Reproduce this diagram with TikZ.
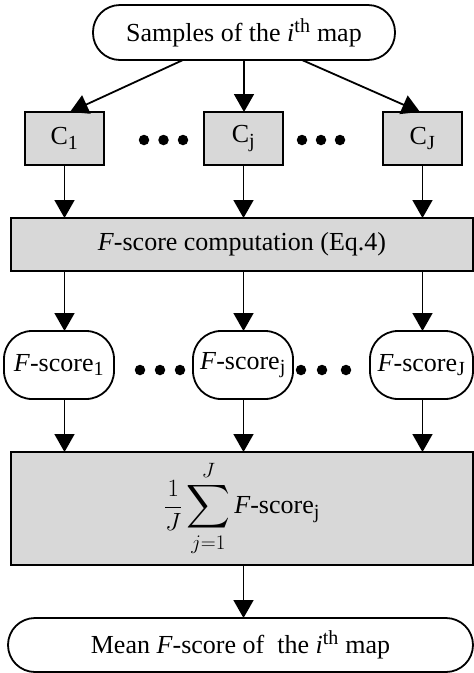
\documentclass[tikz,border=0pt]{standalone}
\usepackage{amsmath}
\usepackage{graphicx}
\usepackage{fontspec}
\setmainfont{Liberation Serif}
\DeclareMathSizes{26}{26}{20}{15}
\usetikzlibrary{arrows.meta,calc}
\definecolor{boxgray}{RGB}{216,216,216}
\newcommand{\bigsigma}{\mathop{\vcenter{\hbox{\scalebox{1.22}{$\displaystyle\sum$}}}}\limits}
\begin{document}
\begin{tikzpicture}[x=1pt,y=-1pt,line width=1.8pt,
  every node/.style={font=\fontsize{26}{30}\selectfont,outer sep=0pt,inner sep=0pt},
  stadium/.style={draw,fill=white,rounded corners=27pt},
  fsnode/.style={draw,fill=white,rounded corners=28pt,minimum height=68pt},
  graybox/.style={draw,fill=boxgray},
  arr/.style={-{Triangle[length=18pt,width=20pt]}},
  bigdot/.style={circle,fill=black,minimum size=10.5pt}]
\useasboundingbox (0,0) rectangle (474,673);
% top
\node[stadium,minimum width=302pt,minimum height=55pt] (top) at (244,32.5)
  {Samples of the \textit{i}\textsuperscript{th} map};
% classifiers
\node[graybox,minimum width=79pt,minimum height=53pt] (C1) at (64.5,138.5) {C\textsubscript{1}};
\node[graybox,minimum width=79pt,minimum height=53pt] (Cj) at (243.5,138.5) {C\textsubscript{j}};
\node[graybox,minimum width=79pt,minimum height=53pt] (CJ) at (422.5,138.5) {C\textsubscript{J}};
\node[bigdot] (da1) at (144,140) {};
\node[bigdot] (da2) at (163.5,140) {};
\node[bigdot] (da3) at (183,140) {};
\node[bigdot] (db1) at (302,140) {};
\node[bigdot] (db2) at (321,140) {};
\node[bigdot] (db3) at (340,140) {};
% F-score computation
\node[graybox,minimum width=462pt,minimum height=53pt] (fc) at (242,244.5)
  {\textit{F}-score computation (Eq.4)};
% F-score nodes
\node[fsnode,minimum width=110pt] (fs1) at (59,365) {\textit{F}-score\textsubscript{1}};
\node[fsnode,minimum width=100pt] (fsj) at (243,365) {\textit{F}-score\textsubscript{j}};
\node[fsnode,minimum width=103pt] (fsJ) at (421.5,365) {\textit{F}-score\textsubscript{J}};
\node[bigdot] (dc1) at (140,370) {};
\node[bigdot] (dc2) at (160,370) {};
\node[bigdot] (dc3) at (180,370) {};
\node[bigdot] (dd1) at (301,370) {};
\node[bigdot] (dd2) at (322,370) {};
\node[bigdot] (dd3) at (346,370) {};
% mean formula
\node[graybox,minimum width=462pt,minimum height=113pt] (sum) at (242,508.5)
  {$\displaystyle\frac{1}{J}\bigsigma_{j=1}^{J}\textit{F}\text{-score}_{\mathrm{j}}$};
% bottom
\node[stadium,minimum width=465pt,minimum height=54pt] (bot) at (240.5,645)
  {Mean \textit{F}-score of\ \ the \textit{i}\textsuperscript{th} map};
% arrows
\draw[arr] ($(top.south)+(-61,0)$) -- ($(C1.north)+(5.5,0)$);
\draw[arr] (top.south) -- (top.south |- Cj.north);
\draw[arr] ($(top.south)+(58,0)$) -- ($(CJ.north)+(-2.5,0)$);
\draw[arr] (C1.south) -- (C1.south |- fc.north);
\draw[arr] (Cj.south) -- (Cj.south |- fc.north);
\draw[arr] (CJ.south) -- (CJ.south |- fc.north);
\draw[arr] (C1 |- fc.south) -- (C1 |- fs1.north);
\draw[arr] (Cj |- fc.south) -- (Cj |- fsj.north);
\draw[arr] (CJ |- fc.south) -- (CJ |- fsJ.north);
\draw[arr] (C1 |- fs1.south) -- (C1 |- sum.north);
\draw[arr] (Cj |- fsj.south) -- (Cj |- sum.north);
\draw[arr] (CJ |- fsJ.south) -- (CJ |- sum.north);
\draw[arr] (Cj |- sum.south) -- (Cj |- bot.north);
\end{tikzpicture}
\end{document}
